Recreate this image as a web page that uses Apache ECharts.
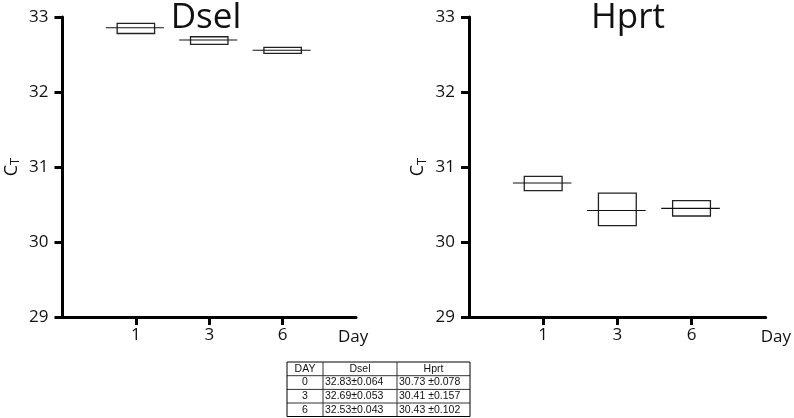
<!DOCTYPE html>
<html>
<head>
<meta charset="utf-8">
<script src="https://cdn.jsdelivr.net/npm/echarts@6/dist/echarts.min.js"></script>
<style>
  html, body { margin: 0; padding: 0; background: #fff; }
  #chart { width: 794px; height: 418px; }
</style>
</head>
<body>
<div id="chart"></div>
<script>
// days on the x axis
const days = ['1', '3', '6']
// box bottom, median line, box top (Ct)
const dselLow = [32.78, 32.636, 32.516]
const dselMid = [32.857, 32.693, 32.556]
const dselHigh = [32.916, 32.737, 32.596]
const hprtLow = [30.684, 30.217, 30.347]
const hprtMid = [30.787, 30.421, 30.448]
const hprtHigh = [30.875, 30.653, 30.551]
const yTicks = [29, 30, 31, 32, 33]

// summary table
const tableHeader = ['DAY', 'Dsel', 'Hprt']
const tableDays = ['0', '3', '6']
const tableDsel = ['32.83±0.064', '32.69±0.053', '32.53±0.043']
const tableHprt = ['30.73 ±0.078', '30.41 ±0.157', '30.43 ±0.102']

const FONT = '"Open Sans", "Noto Sans", sans-serif'
const axisCats = [' ', ...days, '  ']

function boxData (low, mid, high) {
  return days.map((d, i) => [d, low[i], mid[i], high[i]])
}

function renderBox (params, api) {
  const x = api.value(0)
  const lo = api.coord([x, api.value(1)])
  const md = api.coord([x, api.value(2)])
  const hi = api.coord([x, api.value(3)])
  const band = api.size([1, 0])[0]
  const boxW = band * 0.51
  const lineW = band * 0.79
  return {
    type: 'group',
    children: [
      {
        type: 'rect',
        shape: { x: lo[0] - boxW / 2, y: hi[1], width: boxW, height: lo[1] - hi[1] },
        style: { fill: '#fff', stroke: '#222', lineWidth: 1.3 }
      },
      {
        type: 'line',
        shape: { x1: md[0] - lineW / 2 - 1, y1: md[1], x2: md[0] + lineW / 2 - 1, y2: md[1] },
        style: { stroke: '#111', lineWidth: 1.1 }
      }
    ]
  }
}

function xAxisFor (gridIndex, nameGap) {
  return {
    type: 'category',
    gridIndex,
    data: axisCats,
    boundaryGap: false,
    name: 'Day',
    nameLocation: 'end',
    nameGap,
    nameTextStyle: {
      fontFamily: FONT, fontSize: 17, color: '#111',
      align: 'left', verticalAlign: 'top', padding: [12, 0, 0, 0]
    },
    axisLine: { lineStyle: { color: '#000', width: 3 } },
    axisTick: {
      length: 8,
      lineStyle: { color: '#000', width: 3 },
      interval: (idx) => idx > 0 && idx < axisCats.length - 1
    },
    axisLabel: {
      fontFamily: FONT, fontSize: 17, color: '#111', margin: 10,
      interval: (idx) => idx > 0 && idx < axisCats.length - 1
    },
    splitLine: { show: false }
  }
}

function yAxisFor (gridIndex) {
  return {
    type: 'value',
    gridIndex,
    min: yTicks[0],
    max: yTicks[yTicks.length - 1],
    interval: 1,
    name: '{c|C}{s|T}',
    nameLocation: 'middle',
    nameGap: 42,
    nameTextStyle: {
      rich: {
        c: { fontFamily: FONT, fontSize: 18, lineHeight: 18, color: '#111' },
        s: { fontFamily: FONT, fontSize: 13, lineHeight: 13, color: '#111', padding: [8, 0, 0, 0] }
      }
    },
    axisLine: { show: true, lineStyle: { color: '#000', width: 3 } },
    axisTick: { show: true, length: 8, lineStyle: { color: '#000', width: 3 } },
    axisLabel: { fontFamily: FONT, fontSize: 17, color: '#111', margin: 14 },
    splitLine: { show: false }
  }
}

// table built from the arrays
function buildTable () {
  const colX = [287, 323, 397, 470]
  const rowY = [362, 375.7, 389.4, 403, 416.5]
  const rows = [tableHeader].concat(tableDays.map((d, i) => [d, tableDsel[i], tableHprt[i]]))
  const children = []
  rowY.forEach((y, i) => {
    children.push({
      type: 'line',
      shape: { x1: colX[0], y1: y, x2: colX[3], y2: y },
      style: { stroke: i === 0 || i === rowY.length - 1 ? '#000' : '#333', lineWidth: 1 }
    })
  })
  colX.forEach((x, i) => {
    children.push({
      type: 'line',
      shape: { x1: x, y1: rowY[0], x2: x, y2: rowY[rowY.length - 1] },
      style: { stroke: i === 0 || i === colX.length - 1 ? '#000' : '#333', lineWidth: 1 }
    })
  })
  rows.forEach((row, r) => {
    const yc = (rowY[r] + rowY[r + 1]) / 2
    row.forEach((txt, c) => {
      const centered = r === 0 || c === 0
      children.push({
        type: 'text',
        x: centered ? (colX[c] + colX[c + 1]) / 2 : colX[c] + 2,
        y: yc,
        style: {
          text: txt,
          font: '10.5px "Liberation Sans", Arial, sans-serif',
          fill: '#111',
          align: centered ? 'center' : 'left',
          verticalAlign: 'middle'
        }
      })
    })
  })
  return { type: 'group', silent: true, children }
}

const chart = echarts.init(document.getElementById('chart'))
chart.setOption({
  animation: false,
  backgroundColor: '#fff',
  grid: [
    { left: 57, top: 17, width: 299, height: 300 },
    { left: 469, top: 17, width: 299, height: 300 }
  ],
  xAxis: [xAxisFor(0, -18), xAxisFor(1, -5)],
  yAxis: [yAxisFor(0), yAxisFor(1)],
  series: [
    {
      name: 'Dsel', type: 'custom', xAxisIndex: 0, yAxisIndex: 0,
      renderItem: renderBox, encode: { x: 0, y: [1, 2, 3] },
      data: boxData(dselLow, dselMid, dselHigh)
    },
    {
      name: 'Hprt', type: 'custom', xAxisIndex: 1, yAxisIndex: 1,
      renderItem: renderBox, encode: { x: 0, y: [1, 2, 3] },
      data: boxData(hprtLow, hprtMid, hprtHigh)
    }
  ],
  graphic: [
    {
      type: 'text', x: 206, y: 1,
      style: { text: 'Dsel', font: '35px ' + FONT, fill: '#111', align: 'center', verticalAlign: 'top' }
    },
    {
      type: 'text', x: 628, y: 1,
      style: { text: 'Hprt', font: '35px ' + FONT, fill: '#111', align: 'center', verticalAlign: 'top' }
    },
    buildTable()
  ]
})
</script>
</body>
</html>
